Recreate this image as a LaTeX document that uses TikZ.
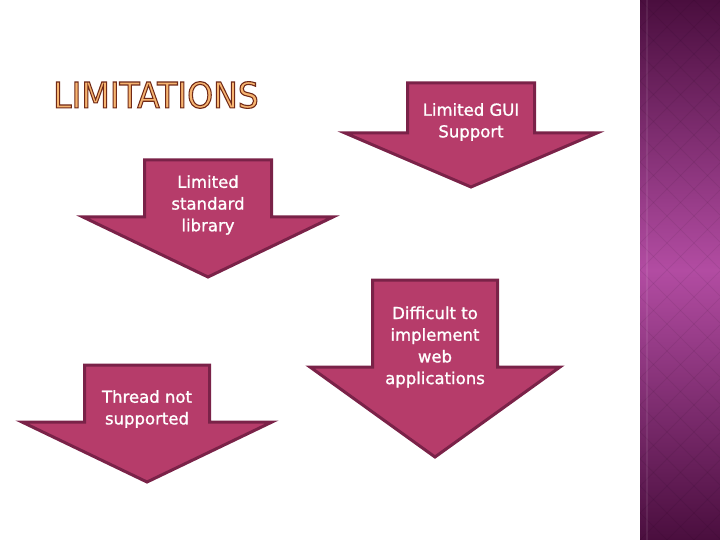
\documentclass[tikz,border=0pt]{standalone}
\usepackage{fontspec}
\setsansfont{DejaVu Sans}
\newfontfamily\labelfont{DejaVu Sans}[FakeBold=1.2]
\usetikzlibrary{positioning}

\definecolor{berry}{RGB}{182,60,106}
\definecolor{berryline}{RGB}{122,34,72}
\definecolor{peach}{RGB}{246,180,112}
\definecolor{rust}{RGB}{112,42,22}
\definecolor{plumdark}{RGB}{74,14,62}
\definecolor{plumlight}{RGB}{178,76,162}

\begin{document}
\begin{tikzpicture}[
    x=1pt, y=-1pt,
    font=\sffamily,
    blockarrow/.style={draw=berryline, fill=berry, line width=3pt, line join=miter},
    lbl/.style={text=white, align=center, font=\labelfont\fontsize{16.5}{21.7}\selectfont},
    title/.style={text=peach, font=\sffamily\fontsize{35.5}{36}\selectfont, inner sep=0pt},
  ]

  % --- Page and side band ---------------------------------------------------
  \useasboundingbox[fill=white] (0,0) rectangle (720,540);
  \shade[top color=plumdark, bottom color=plumdark, middle color=plumlight]
    (640,0) rectangle (720,540);
  \begin{scope}
    \clip (640,0) rectangle (720,540);
    \foreach \k in {-20,...,3}
      \draw[black, opacity=0.06, line width=0.8pt] (640+27*\k,0) -- (1180+27*\k,540);
    \foreach \k in {0,...,23}
      \draw[black, opacity=0.06, line width=0.8pt] (640+27*\k,0) -- (100+27*\k,540);
    \draw[white, opacity=0.08, line width=1.5pt] (647,0) -- (647,540);
  \end{scope}

  % --- Title ----------------------------------------------------------------
  \node[title] (title) at (156,95)
    {\scalebox{0.93}[1]{\special{pdf:literal direct 0.44 0.16 0.09 RG 1.1 w 2 Tr}LIMITATIONS\special{pdf:literal direct 0 Tr}}};

  % --- Block arrows: name/centre/top/shaft/shoulder/head/tip ----------------
  \foreach \n/\cx/\ty/\sh/\sy/\hh/\tip in {gui/471/83/63.5/133/126/187,
      stdlib/208/160/63.5/217/125/277,
      thread/147/365/62.5/422/125/482,
      web/435/280/62.5/367/125/457}
    \draw[blockarrow] (\cx-\sh,\ty) -- (\cx+\sh,\ty) -- (\cx+\sh,\sy) -- (\cx+\hh,\sy)
      -- (\cx,\tip) -- (\cx-\hh,\sy) -- (\cx-\sh,\sy) -- cycle;

  % --- Labels ---------------------------------------------------------------
  \node[lbl] (gui-text)    at (471,122) {Limited GUI\\Support};
  \node[lbl] (stdlib-text) at (208,205) {Limited\\standard\\library};
  \node[lbl] (thread-text) at (147,409) {Thread not\\supported};
  \node[lbl] (web-text)    at (435,347) {Difficult to\\implement\\web\\applications};

\end{tikzpicture}
\end{document}
